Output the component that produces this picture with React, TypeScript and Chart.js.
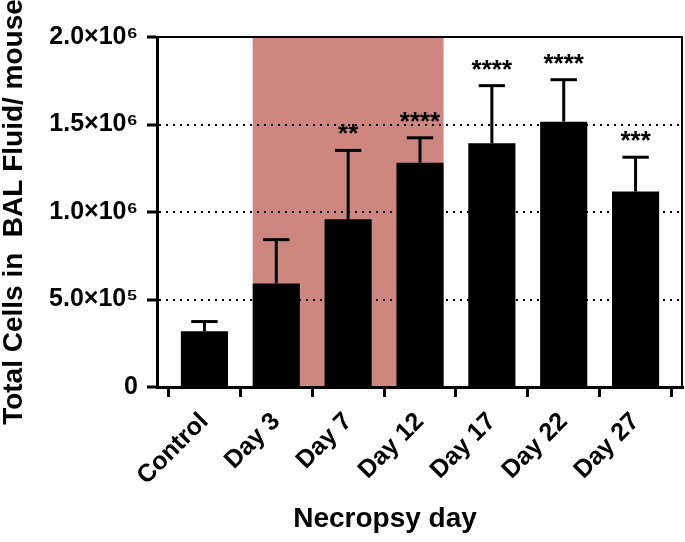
import React, { useEffect, useRef } from 'react';
import { Chart, registerables } from 'chart.js';

Chart.register(...registerables);

const categories = ['Control', 'Day 3', 'Day 7', 'Day 12', 'Day 17', 'Day 22', 'Day 27'];
const meanCells = [318000, 592000, 958000, 1281000, 1393000, 1516000, 1117000];
const errorUpper = [56000, 250000, 394000, 143000, 329000, 240000, 196000];
const significance = ['', '', '**', '****', '****', '****', '***'];
const shadedFrom = 'Day 3';
const shadedTo = 'Day 12';
const yTickValues = [0, 500000, 1000000, 1500000, 2000000];
const yTickLabels = ['0', '5.0×10⁵', '1.0×10⁶', '1.5×10⁶', '2.0×10⁶'];
const yAxisTitle = 'Total Cells in  BAL Fluid/ mouse';
const xAxisTitle = 'Necropsy day';

const FONT = "'Liberation Sans', Arial, Helvetica, sans-serif";
const SHADE = '#cd877e';

const shadePlugin = {
  id: 'shade',
  beforeDraw(chart: any) {
    const meta = chart.getDatasetMeta(0);
    const a = meta.data[categories.indexOf(shadedFrom)];
    const b = meta.data[categories.indexOf(shadedTo)];
    if (!a || !b) return;
    const { top, bottom } = chart.chartArea;
    const left = a.x - a.width / 2;
    const right = b.x + b.width / 2;
    const ctx = chart.ctx;
    ctx.save();
    ctx.fillStyle = SHADE;
    ctx.fillRect(left, top, right - left, bottom - top);
    ctx.restore();
  },
};

const errorPlugin = {
  id: 'errorBars',
  afterDatasetsDraw(chart: any) {
    const meta = chart.getDatasetMeta(0);
    const yScale = chart.scales.y;
    const ctx = chart.ctx;
    ctx.save();
    ctx.strokeStyle = '#000';
    ctx.fillStyle = '#000';
    ctx.lineWidth = 3;
    meta.data.forEach((el: any, i: number) => {
      const x = el.x;
      const yBar = el.y;
      const yTop = yScale.getPixelForValue(meanCells[i] + errorUpper[i]);
      const capHalf = el.width * 0.28;
      ctx.beginPath();
      ctx.moveTo(x, yBar);
      ctx.lineTo(x, yTop);
      ctx.stroke();
      ctx.beginPath();
      ctx.moveTo(x - capHalf, yTop);
      ctx.lineTo(x + capHalf, yTop);
      ctx.stroke();
      if (significance[i]) {
        ctx.font = `bold 26px ${FONT}`;
        ctx.textAlign = 'center';
        ctx.textBaseline = 'alphabetic';
        ctx.fillText(significance[i], x, yTop - 8);
      }
    });
    ctx.restore();
  },
};

const framePlugin = {
  id: 'frame',
  afterDraw(chart: any) {
    const { left, right, top, bottom } = chart.chartArea;
    const ctx = chart.ctx;
    ctx.save();
    ctx.strokeStyle = '#000';
    ctx.lineWidth = 2;
    ctx.beginPath();
    ctx.moveTo(left, top);
    ctx.lineTo(right - 1, top);
    ctx.lineTo(right - 1, bottom);
    ctx.stroke();
    ctx.fillStyle = '#000';
    ctx.font = `bold 28px ${FONT}`;
    ctx.textAlign = 'center';
    ctx.textBaseline = 'alphabetic';
    ctx.fillText(xAxisTitle, (left + right) / 2 - 35, chart.height - 15);
    ctx.restore();
  },
};

export default function App() {
  const ref = useRef<HTMLCanvasElement>(null);
  useEffect(() => {
    if (!ref.current) return;
    const chart = new Chart(ref.current, {
      type: 'bar',
      data: {
        datasets: [
          {
            data: categories.map((_, i) => ({ x: i, y: meanCells[i] })),
            backgroundColor: '#000',
            borderWidth: 0,
            barPercentage: 0.656,
            categoryPercentage: 1,
          } as any,
        ],
      },
      options: {
        animation: false,
        responsive: false,
        devicePixelRatio: 1,
        layout: { padding: { top: 37, right: 2, left: 0, bottom: 0 } },
        plugins: { legend: { display: false }, tooltip: { enabled: false } },
        scales: {
          x: {
            type: 'linear',
            min: -0.66,
            max: 6.66,
            offset: false,
            afterBuildTicks: (s: any) => {
              s.ticks = categories.map((_, i) => ({ value: i }));
            },
            afterFit: (s: any) => {
              s.height = 155;
            },
            ticks: {
              callback: (v: any) => categories[v] ?? '',
              maxRotation: 45,
              minRotation: 45,
              autoSkip: false,
              color: '#000',
              padding: 10,
              font: { family: FONT, size: 25, weight: 'bold' },
            },
            grid: {
              drawOnChartArea: false,
              tickLength: 10,
              tickWidth: 3,
              tickColor: '#000',
              color: '#000',
            },
            border: { display: true, color: '#000', width: 3 },
          },
          y: {
            min: 0,
            max: 2000000,
            afterBuildTicks: (s: any) => {
              s.ticks = yTickValues.map((v) => ({ value: v }));
            },
            afterFit: (s: any) => {
              s.width = 157;
            },
            ticks: {
              callback: (v: any) => yTickLabels[yTickValues.indexOf(v)] ?? '',
              color: '#000',
              padding: 9,
              font: { family: FONT, size: 25, weight: 'bold' },
            },
            grid: {
              color: (c: any) =>
                c.tick && (c.tick.value === 0 || c.tick.value === 2000000) ? 'rgba(0,0,0,0)' : '#000',
              lineWidth: 2,
              tickLength: 10,
              tickWidth: 3,
              tickColor: '#000',
            },
            border: { display: true, color: '#000', width: 3, dash: [2, 5] },
            title: {
              display: true,
              text: yAxisTitle,
              color: '#000',
              padding: 0,
              font: { family: FONT, size: 28, weight: 'bold', lineHeight: 1 },
            },
          },
        },
      } as any,
      plugins: [shadePlugin, errorPlugin, framePlugin],
    });
    return () => chart.destroy();
  }, []);
  return (
    <div style={{ position: 'absolute', left: 0, top: 0, width: 685, height: 542 }}>
      <canvas ref={ref} width={685} height={542} />
    </div>
  );
}
